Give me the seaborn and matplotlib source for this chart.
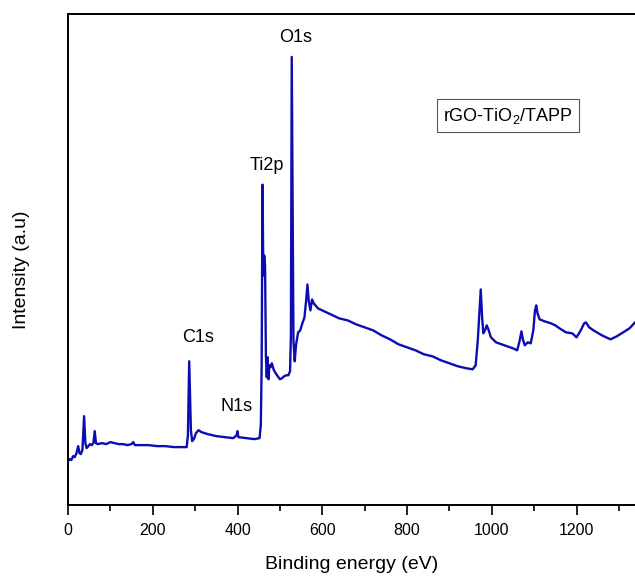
import numpy as np
import pandas as pd
import matplotlib
matplotlib.use("Agg")
import matplotlib.pyplot as plt
import seaborn as sns

# XPS survey spectrum
binding_energy = [0, 4, 8, 12, 16, 20, 24, 27, 30, 34, 38, 41, 44, 48, 52, 56, 60, 63, 66, 70,
                  80, 90, 100, 110, 120, 130, 140, 150, 154, 158, 170, 190, 210, 230, 250, 270,
                  280, 283, 286, 288, 290, 293, 297, 302, 308, 315, 330, 350, 370, 390, 398, 400,
                  402, 420, 440, 452, 455, 457, 459, 461, 463, 465, 467, 469, 471, 473, 475, 478,
                  481, 485, 490, 495, 500, 505, 510, 515, 520, 524, 526, 528, 530, 532, 535, 538,
                  543, 548, 553, 558, 562, 565, 568, 572, 576, 580, 590, 600, 620, 640, 660, 680,
                  700, 720, 740, 760, 780, 800, 820, 840, 860, 880, 900, 920, 940, 955, 962, 967,
                  971, 974, 977, 980, 984, 988, 992, 998, 1010, 1030, 1050, 1060, 1066, 1070, 1074,
                  1078, 1085, 1092, 1098, 1102, 1105, 1108, 1113, 1125, 1140, 1150, 1160, 1175,
                  1190, 1200, 1210, 1218, 1222, 1230, 1240, 1260, 1280, 1295, 1310, 1325, 1338]
intensity = [44, 46, 45, 49, 48, 52, 59, 52, 51, 55, 89, 62, 57, 59, 61, 60, 62, 74, 62, 61,
             62, 61, 63, 62, 61, 61, 60, 61, 63, 60, 60, 60, 59, 59, 58, 58,
             58, 70, 144, 110, 75, 64, 66, 72, 75, 73, 71, 69, 68, 67, 70, 74,
             68, 67, 66, 67, 80, 140, 321, 230, 250, 240, 150, 128, 148, 126, 140, 138,
             142, 136, 132, 129, 126, 127, 129, 130, 130, 134, 170, 449, 300, 165, 144, 160,
             173, 175, 182, 188, 205, 221, 205, 195, 206, 202, 197, 195, 191, 187, 185, 181,
             178, 175, 170, 166, 161, 158, 155, 151, 149, 145, 142, 139, 137, 136, 140, 165,
             195, 216, 190, 172, 175, 180, 176, 168, 163, 160, 157, 155, 165, 174, 165,
             160, 163, 162, 175, 195, 200, 192, 186, 184, 182, 180, 177, 173,
             172, 168, 175, 182, 183, 178, 175, 170, 166, 169, 173, 177, 183]

peak_names = ["O1s", "Ti2p", "C1s", "N1s"]
peak_x = [537, 469, 306, 398]
peak_y = [468, 340, 168, 99]

df = pd.DataFrame({"Binding energy (eV)": binding_energy, "Intensity": intensity})

sns.set_style("ticks")
plt.rcParams['font.family'] = ['Liberation Sans', 'DejaVu Sans']
plt.rcParams['mathtext.fontset'] = 'custom'
plt.rcParams['mathtext.rm'] = 'Liberation Sans'
plt.rcParams['text.color'] = 'black'
plt.rcParams['axes.labelcolor'] = 'black'
plt.rcParams['xtick.color'] = 'black'
plt.rcParams['axes.edgecolor'] = 'black'

fig = plt.figure(figsize=(6.35, 5.79), dpi=100)
ax = fig.add_axes([68 / 635, 1 - 505 / 579, 1 - 68 / 635, (505 - 14) / 579])

sns.lineplot(data=df, x="Binding energy (eV)", y="Intensity", ax=ax,
             color="#0c0cb4", linewidth=1.7)

ax.set_xlim(0, 1338)
ax.set_ylim(0, 492)
ax.set_xticks(np.arange(0, 1400, 200))
ax.set_xticks(np.arange(100, 1400, 200), minor=True)
ax.set_yticks([])
ax.tick_params(axis="x", which="major", length=7, width=1.2, pad=6, labelsize=11.5)
ax.tick_params(axis="x", which="minor", length=4, width=1.2)
for side in ["left", "bottom", "top"]:
    ax.spines[side].set_linewidth(1.4)
ax.spines["right"].set_visible(False)

ax.set_xlabel("Binding energy (eV)", fontsize=14, labelpad=13)
ax.set_ylabel("Intensity (a.u)", fontsize=14)
ax.yaxis.set_label_coords(-0.067, 0.48)

for name, px, py in zip(peak_names, peak_x, peak_y):
    ax.text(px, py, name, fontsize=13, ha="center", va="center")

ax.text(1038, 390, "rGO-TiO$_2$/TAPP", fontsize=13, ha="center", va="center",
        bbox=dict(boxstyle="square,pad=0.35", facecolor="white", edgecolor="#555555", linewidth=0.8))

fig.savefig("out.png", dpi=100)
